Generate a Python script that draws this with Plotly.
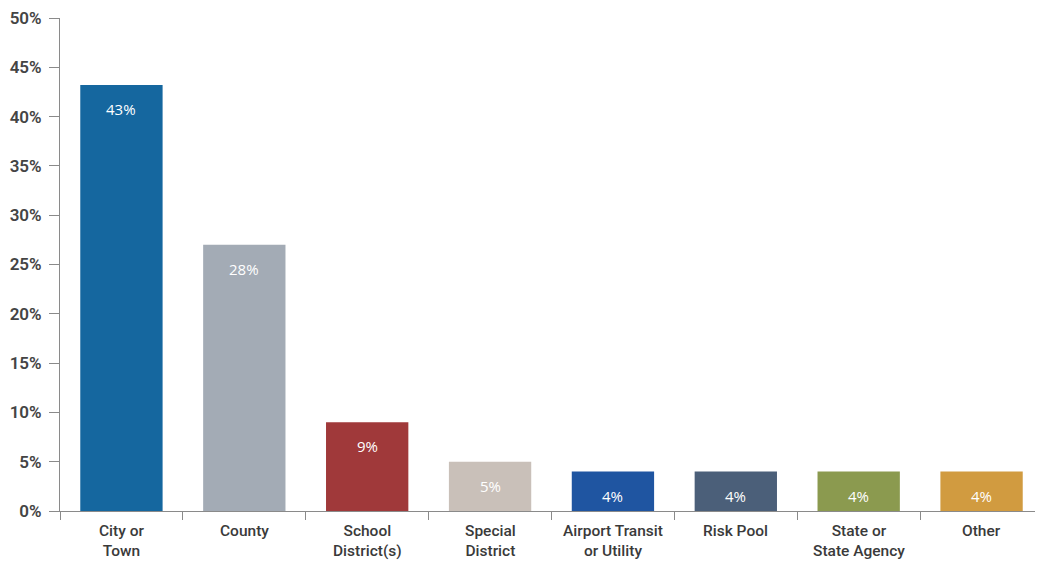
import plotly.graph_objects as go

categories = ["City or<br>Town", "County", "School<br>District(s)", "Special<br>District",
              "Airport Transit<br>or Utility", "Risk Pool", "State or<br>State Agency", "Other"]
values = [43.2, 27.0, 9.0, 5.0, 4.0, 4.0, 4.0, 4.0]
labels = ["43%", "28%", "9%", "5%", "4%", "4%", "4%", "4%"]
colors = ["#15679f", "#a3abb5", "#a0393a", "#c9c0b9", "#1f55a1", "#4b5f79", "#8b9a4f", "#d19b40"]
ytick_vals = [0, 5, 10, 15, 20, 25, 30, 35, 40, 45, 50]
ytick_text = ["0%", "5%", "10%", "15%", "20%", "25%", "30%", "35%", "40%", "45%", "50%"]

fig = go.Figure()
fig.add_trace(go.Bar(x=categories, y=values, marker=dict(color=colors, line=dict(width=0)),
                     hoverinfo="skip"))

# value labels inside bars
for c, v, t in zip(categories, values, labels):
    fig.add_annotation(x=c, y=v, text=t, showarrow=False, yanchor="top", yshift=-12,
                       font=dict(family="Open Sans, Liberation Sans", size=15, color="white"))

# category labels under the axis
for c in categories:
    fig.add_annotation(x=c, xref="x", y=0, yref="paper", text=c, showarrow=False,
                       yanchor="top", yshift=-9, align="center",
                       font=dict(family="Roboto, Liberation Sans", size=15.5,
                                 color="#3a3a3a", weight=500))

fig.update_layout(
    width=1035, height=554,
    margin=dict(l=52, r=0, t=10, b=51, autoexpand=False),
    paper_bgcolor="white", plot_bgcolor="white",
    bargap=0.33, showlegend=False,
    font=dict(family="Liberation Sans, Arial", color="#444"),
)
fig.update_xaxes(
    automargin=False,
    showline=True, linecolor="#8a8a8a", linewidth=1,
    ticks="outside", tickson="boundaries", ticklen=8, tickcolor="#8a8a8a",
    showticklabels=False, showgrid=False,
)
fig.update_yaxes(
    automargin=False,
    range=[0, 50], tickvals=ytick_vals, ticktext=ytick_text,
    showline=True, linecolor="#8a8a8a", linewidth=1,
    ticks="outside", ticklen=10, tickcolor="#8a8a8a",
    ticklabelstandoff=4, ticklabeloverflow="allow",
    tickfont=dict(family="Roboto, Liberation Sans", size=17, color="#444", weight=600),
    showgrid=False, zeroline=False,
)

fig.write_html("out.html")
